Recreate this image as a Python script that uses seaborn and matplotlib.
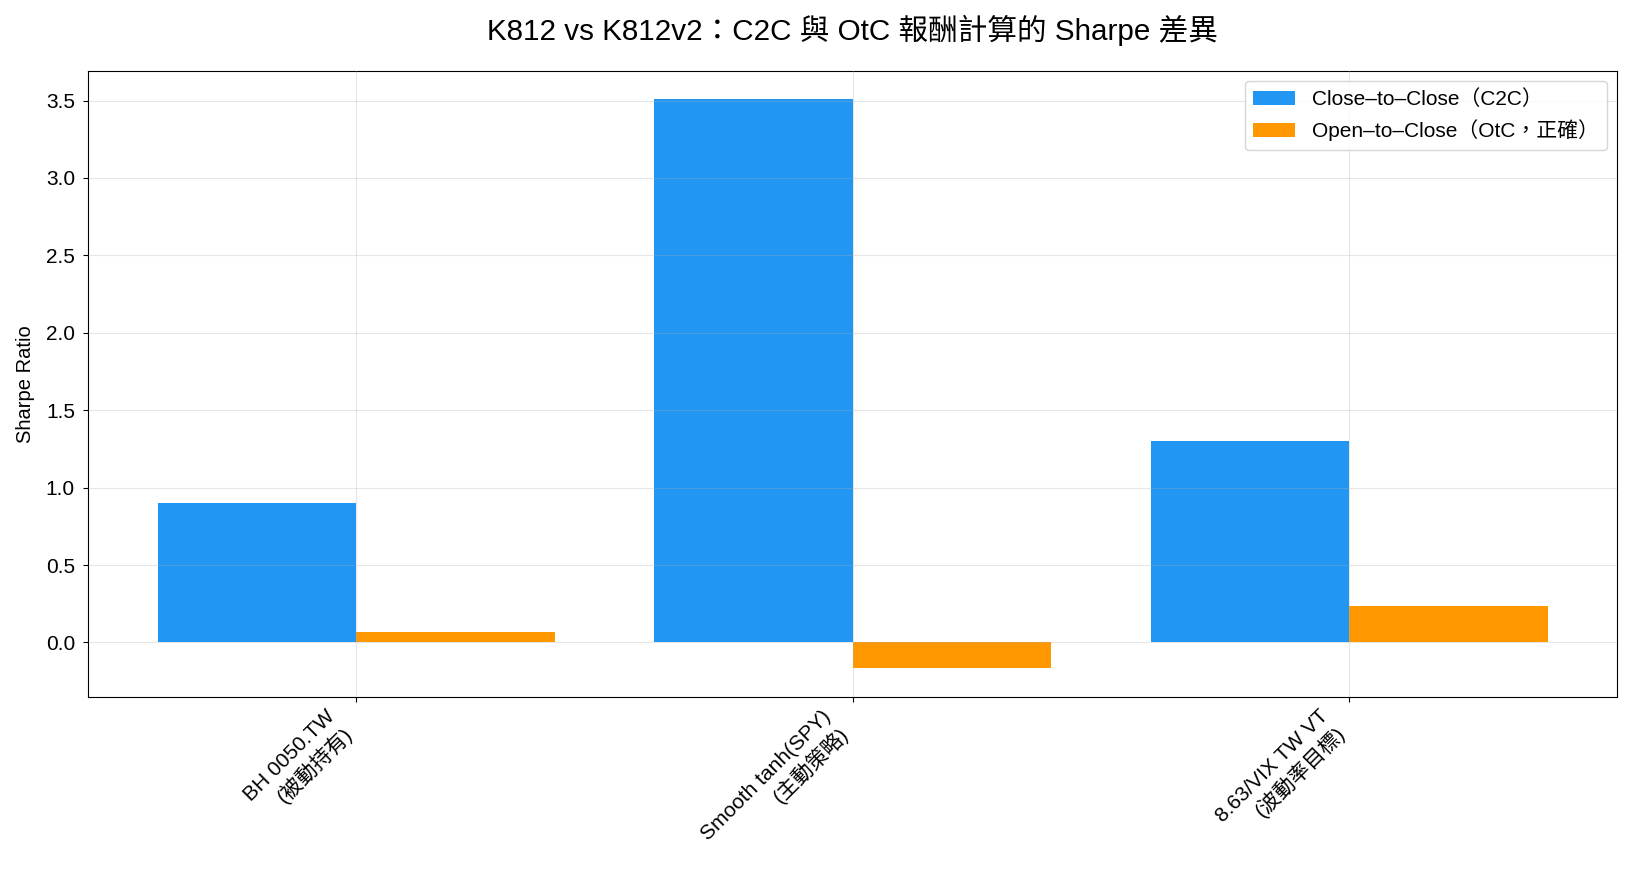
import matplotlib
matplotlib.use("Agg")
import matplotlib.pyplot as plt
import seaborn as sns
import pandas as pd

# Data
strategies = ["BH 0050.TW\n(被動持有)", "Smooth tanh(SPY)\n(主動策略)", "8.63/VIX TW VT\n(波動率目標)"]
methods = ["Close–to–Close（C2C）", "Open–to–Close（OtC，正確）"]
sharpe_c2c = [0.90, 3.51, 1.30]
sharpe_otc = [0.067, -0.167, 0.234]
colors = ["#2196F3", "#FF9800"]

df = pd.DataFrame({
    "strategy": strategies * 2,
    "method": [methods[0]] * 3 + [methods[1]] * 3,
    "sharpe": sharpe_c2c + sharpe_otc,
})

plt.rcParams["font.family"] = ["Liberation Sans", "Noto Sans CJK TC", "DejaVu Sans"]
plt.rcParams["axes.unicode_minus"] = False

fig, ax = plt.subplots(figsize=(16.32, 8.82), dpi=100)
sns.barplot(data=df, x="strategy", y="sharpe", hue="method", palette=colors,
            saturation=1, width=0.8, linewidth=0, errorbar=None, ax=ax)

ax.set_title("K812 vs K812v2：C2C 與 OtC 報酬計算的 Sharpe 差異", fontsize=21.3, pad=22)
ax.set_xlabel("")
ax.set_ylabel("Sharpe Ratio", fontsize=14.5, labelpad=8)
ax.tick_params(axis="both", labelsize=15)
ax.tick_params(axis="y", pad=6)
plt.setp(ax.get_xticklabels(), rotation=45, ha="right")
ax.set_xlim(-0.54, 2.54)
ax.grid(True, alpha=0.3)
ax.set_axisbelow(False)
ax.legend(title=None, loc="upper right", fontsize=15)

plt.subplots_adjust(left=0.054, right=0.991, top=0.92, bottom=0.21)
plt.savefig("out.png")
plt.close()
